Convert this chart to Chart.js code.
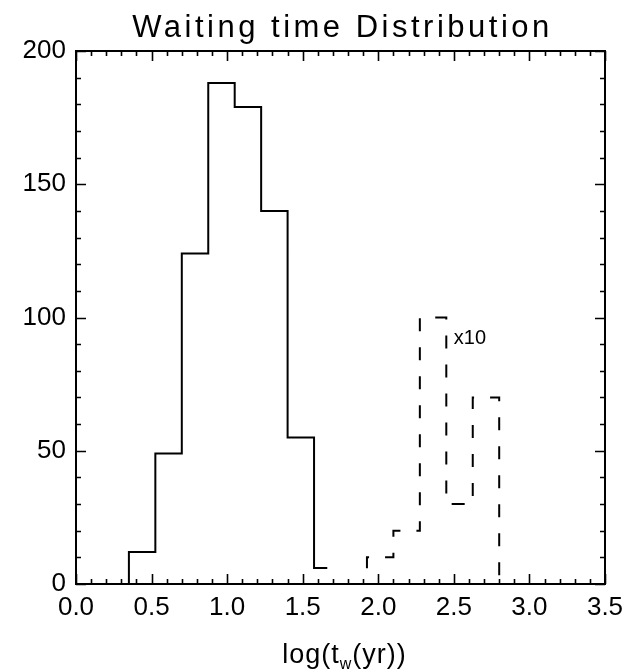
<!DOCTYPE html>
<html>
<head>
<meta charset="utf-8">
<script src="https://cdn.jsdelivr.net/npm/chart.js@4/dist/chart.umd.min.js"></script>
<style>
  html, body { margin: 0; padding: 0; background: #fff; }
  canvas { display: block; }
</style>
</head>
<body>
<canvas id="waitChart" width="627" height="672"></canvas>
<script>
// histogram bin centres (log years) and counts
const mainBins = [0.2625, 0.4375, 0.6125, 0.7875, 0.9625, 1.1375, 1.3125, 1.4875, 1.6625];
const mainCounts = [0, 12, 49, 124, 188, 179, 140, 55, 6];
// long waiting times, shown multiplied by 10
const tailBins = [1.8375, 2.0125, 2.1875, 2.3625, 2.5375, 2.7125, 2.8875];
const tailCounts = [0, 10, 20, 100, 30, 70, 0];

const xTicks = [0.0, 0.5, 1.0, 1.5, 2.0, 2.5, 3.0, 3.5];
const yTicks = [0, 50, 100, 150, 200];

const titleText = "Waiting time Distribution";
const tailNote = "x10";
const fontName = "'Liberation Sans', Arial, sans-serif";

function toPoints(xs, ys) {
  return xs.map((x, i) => ({ x: x, y: ys[i] }));
}

// inward tick marks on all four sides plus the closed frame, title and x label
const idlFrame = {
  id: "idlFrame",
  afterDraw(chart) {
    const ctx = chart.ctx;
    const area = chart.chartArea;
    const xs = chart.scales.x;
    const ys = chart.scales.y;
    ctx.save();
    ctx.strokeStyle = "#000";
    ctx.lineWidth = 2;
    ctx.strokeRect(area.left, area.top, area.right - area.left, area.bottom - area.top);

    ctx.lineWidth = 1.6;
    ctx.beginPath();
    for (let i = 0; i <= 35; i++) {
      const v = i / 10;
      const px = Math.round(xs.getPixelForValue(v)) + 0.5;
      const len = i % 5 === 0 ? 10 : 5;
      ctx.moveTo(px, area.bottom);
      ctx.lineTo(px, area.bottom - len);
      ctx.moveTo(px, area.top);
      ctx.lineTo(px, area.top + len);
    }
    for (let i = 0; i <= 20; i++) {
      const v = i * 10;
      const py = Math.round(ys.getPixelForValue(v)) + 0.5;
      const len = i % 5 === 0 ? 10 : 5;
      ctx.moveTo(area.left, py);
      ctx.lineTo(area.left + len, py);
      ctx.moveTo(area.right, py);
      ctx.lineTo(area.right - len, py);
    }
    ctx.stroke();

    ctx.fillStyle = "#000";
    // title
    ctx.font = "31px " + fontName;
    ctx.letterSpacing = "3.5px";
    ctx.textAlign = "center";
    ctx.textBaseline = "alphabetic";
    ctx.fillText(titleText, (area.left + area.right) / 2 + 2, 37);
    ctx.letterSpacing = "0px";

    // "x10" note next to the tall dashed bin
    ctx.font = "20px " + fontName;
    ctx.textAlign = "left";
    ctx.textBaseline = "middle";
    ctx.fillText(tailNote, xs.getPixelForValue(2.5), ys.getPixelForValue(92));

    // x label log(t_w(yr)) with subscript w
    ctx.letterSpacing = "1px";
    const big = "27px " + fontName;
    const small = "16px " + fontName;
    const parts = [["log(t", big, 0], ["w", small, 6], ["(yr))", big, 0]];
    let total = 0;
    parts.forEach((p) => { ctx.font = p[1]; total += ctx.measureText(p[0]).width; });
    let x = (area.left + area.right) / 2 + 4 - total / 2;
    const base = 663;
    ctx.textBaseline = "alphabetic";
    parts.forEach((p) => {
      ctx.font = p[1];
      ctx.fillText(p[0], x, base + p[2]);
      x += ctx.measureText(p[0]).width;
    });
    ctx.restore();
  },
};

const ctx = document.getElementById("waitChart").getContext("2d");
const waitChart = new Chart(ctx, {
  type: "scatter",
  data: {
    datasets: [
      {
        label: "waiting time",
        data: toPoints(mainBins, mainCounts),
        showLine: true,
        stepped: "middle",
        borderColor: "#000",
        borderWidth: 2,
        pointRadius: 0,
        fill: false,
      },
      {
        label: "waiting time x10",
        data: toPoints(tailBins, tailCounts),
        showLine: true,
        stepped: "middle",
        borderColor: "#000",
        borderWidth: 2,
        borderDash: [13, 16],
        pointRadius: 0,
        fill: false,
      },
    ],
  },
  options: {
    responsive: false,
    animation: false,
    devicePixelRatio: 1,
    layout: { padding: { top: 51, right: 22, left: 0, bottom: 0 } },
    scales: {
      x: {
        type: "linear",
        min: 0,
        max: 3.5,
        afterBuildTicks: (scale) => {
          scale.ticks = xTicks.map((v) => ({ value: v }));
        },
        afterFit: (scale) => {
          scale.height = 88;
          scale.paddingRight = 0;
          scale.paddingLeft = 0;
        },
        grid: { display: false, drawTicks: false },
        border: { display: true, color: "#000", width: 2 },
        ticks: {
          color: "#000",
          font: { family: fontName, size: 26 },
          padding: 8,
          maxRotation: 0,
          autoSkip: false,
          callback: (v) => Number(v).toFixed(1),
        },
      },
      y: {
        type: "linear",
        min: 0,
        max: 200,
        afterBuildTicks: (scale) => {
          scale.ticks = yTicks.map((v) => ({ value: v }));
        },
        afterFit: (scale) => {
          scale.width = 76;
        },
        grid: { display: false, drawTicks: false },
        border: { display: true, color: "#000", width: 2 },
        ticks: {
          color: "#000",
          font: { family: fontName, size: 26 },
          padding: 10,
          autoSkip: false,
        },
      },
    },
    plugins: {
      legend: { display: false },
      tooltip: { enabled: false },
      title: { display: false },
    },
  },
  plugins: [idlFrame],
});
</script>
</body>
</html>
